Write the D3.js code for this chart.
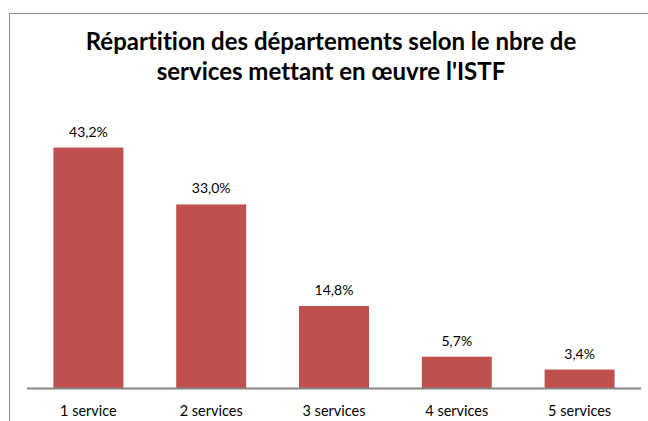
<!DOCTYPE html>
<html>
<head>
<meta charset="utf-8">
<script src="https://cdn.jsdelivr.net/npm/d3@7"></script>
<style>
html,body{margin:0;padding:0;background:#fff;}
svg{display:block;font-family:Lato, "Open Sans", sans-serif;}
svg text{font-variant-ligatures:none;font-feature-settings:"liga" 0;}
</style>
</head>
<body>
<svg id="chart" width="648" height="421"></svg>
<script>
const titleLines = ["Répartition des départements selon le nbre de", "services mettant en œuvre l'ISTF"];
const categories = ["1 service", "2 services", "3 services", "4 services", "5 services"];
const values = [43.2, 33.0, 14.8, 5.7, 3.4];
const valueLabels = ["43,2%", "33,0%", "14,8%", "5,7%", "3,4%"];

const svg = d3.select("#chart");
const W = 648, H = 421;
svg.append("rect").attr("width", W).attr("height", H).attr("fill", "#fff");

// outer frame (extends beyond the visible area on right/bottom)
svg.append("rect")
  .attr("x", 9.5).attr("y", 13.5)
  .attr("width", 700).attr("height", 500)
  .attr("fill", "none").attr("stroke", "#8c8c8c").attr("stroke-width", 1);

const plot = {left: 27, right: 641, top: 137.5, bottom: 388.5};

const x = d3.scaleBand().domain(categories).range([plot.left, plot.right]).paddingInner(0.43).paddingOuter(0.215);
const y = d3.scaleLinear().domain([0, 45]).range([plot.bottom, plot.top]);

svg.append("g").selectAll("rect").data(values).join("rect")
  .attr("x", (d, i) => x(categories[i]))
  .attr("y", d => y(d))
  .attr("width", x.bandwidth())
  .attr("height", d => y(0) - y(d))
  .attr("fill", "#C0504D");

svg.append("g").selectAll("text").data(values).join("text")
  .attr("x", (d, i) => x(categories[i]) + x.bandwidth() / 2)
  .attr("y", d => y(d) - 11)
  .attr("text-anchor", "middle")
  .attr("font-size", 14)
  .attr("fill", "#000")
  .text((d, i) => valueLabels[i]);

// x axis
const xAxis = d3.axisBottom(x).tickSize(0).tickPadding(0);
const gx = svg.append("g").attr("transform", `translate(0,${plot.bottom})`).call(xAxis);
gx.select(".domain").attr("stroke", "#868686").attr("stroke-width", 2).attr("d", `M${plot.left},0H${plot.right}`);
gx.selectAll(".tick text").attr("font-family", "Lato, 'Open Sans', sans-serif").attr("font-size", 14.5).attr("fill", "#000").attr("dy", null).attr("y", 27);

// title
svg.append("g").selectAll("text").data(titleLines).join("text")
  .attr("x", 331)
  .attr("y", (d, i) => 50 + i * 30)
  .attr("text-anchor", "middle")
  .attr("font-size", 24)
  .attr("font-weight", "bold")
  .attr("fill", "#000")
  .text(d => d);
</script>
</body>
</html>
